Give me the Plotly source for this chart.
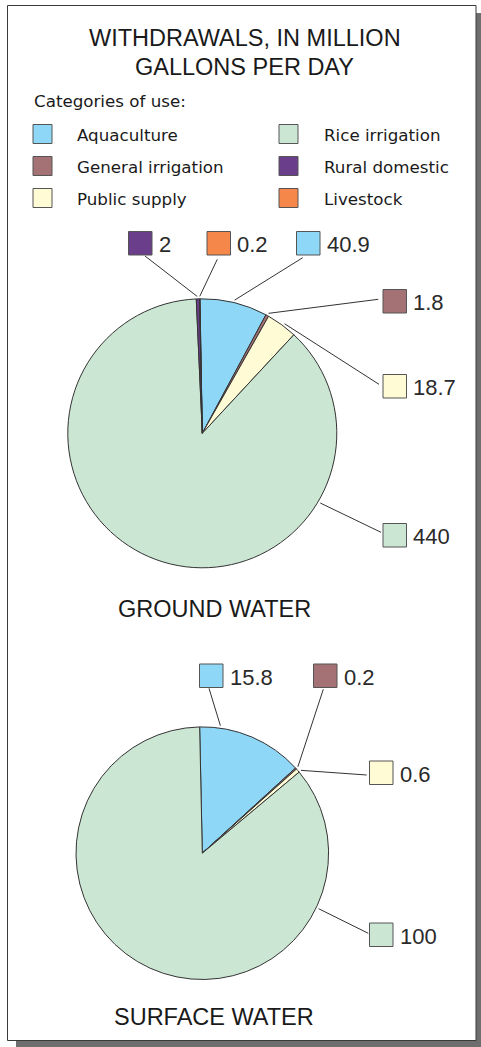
import math
import plotly.graph_objects as go

# ---------------- data ----------------
categories = ["Aquaculture", "General irrigation", "Public supply",
              "Rice irrigation", "Rural domestic", "Livestock"]
colors = ["#8ed7f7", "#a47274", "#fffbd4", "#cce6d4", "#6a3e8a", "#f5874a"]

ground_labels = ["Aquaculture", "General irrigation", "Public supply",
                 "Rice irrigation", "Rural domestic", "Livestock"]
ground_values = [40.9, 1.8, 18.7, 440, 2, 0.2]

surface_labels = ["Aquaculture", "General irrigation", "Public supply", "Rice irrigation"]
surface_values = [15.8, 0.2, 0.6, 100]

title_lines = ["WITHDRAWALS, IN MILLION", "GALLONS PER DAY"]
legend_title = "Categories of use:"
pie_titles = ["GROUND WATER", "SURFACE WATER"]

W, H = 481, 1047


def px(x):
    return x / W


def py(y):
    return 1 - y / H


color_of = dict(zip(categories, colors))

# pie geometry (pixels) -- layout
pies = [
    dict(labels=ground_labels, values=ground_values, cx=202.3, cy=433.3, r=134.5, rot=-1.0,
         callouts={
             "Rural domestic": dict(box=(128.5, 231.5), start=(145, 256), f=0.3),
             "Livestock": dict(box=(207, 231.5), start=(217.3, 259.3), f=0.5),
             "Aquaculture": dict(box=(296.5, 231.5), start=(302.7, 257.7), f=0.5),
             "General irrigation": dict(box=(383, 289.5), start=(378.3, 299.3), f=0.5),
             "Public supply": dict(box=(383, 374.5), start=(379, 384.3), f=0.55),
             "Rice irrigation": dict(box=(383, 523.5), start=(381, 532.3), f=0.247),
         },
         title_y=608.5),
    dict(labels=surface_labels, values=surface_values, cx=202.3, cy=853.2, r=126.3, rot=-1.2,
         callouts={
             "Aquaculture": dict(box=(199.5, 664), start=(209, 688.3), f=0.19),
             "General irrigation": dict(box=(313.5, 664), start=(323.3, 689.3), f=0.5),
             "Public supply": dict(box=(369.5, 761), start=(366.7, 775), f=0.95),
             "Rice irrigation": dict(box=(369.5, 923), start=(368.3, 933.3), f=0.212),
         },
         title_y=1017),
]

fig = go.Figure()
shapes = []
annotations = []

# frame with shadow
shapes.append(dict(type="rect", xref="paper", yref="paper",
                   x0=px(16), x1=px(484), y0=py(13), y1=py(1049),
                   fillcolor="#6e6e6e", line=dict(width=0), layer="below"))
shapes.append(dict(type="rect", xref="paper", yref="paper",
                   x0=px(7.5), x1=px(476), y0=py(5.5), y1=py(1040.5),
                   fillcolor="white", line=dict(color="#3a3a3a", width=1), layer="below"))

for k, p in enumerate(pies):
    cx, cy, r = p["cx"], p["cy"], p["r"]
    fig.add_trace(go.Pie(
        labels=p["labels"], values=p["values"],
        marker=dict(colors=[color_of[l] for l in p["labels"]],
                    line=dict(color="#333333", width=1)),
        sort=False, direction="clockwise", rotation=p["rot"],
        textinfo="none", hoverinfo="label+value", showlegend=False,
        domain=dict(x=[px(cx - r), px(cx + r)], y=[py(cy + r), py(cy - r)]),
    ))
    total = sum(p["values"])
    ang = p["rot"]
    for lab, val in zip(p["labels"], p["values"]):
        span = val / total * 360
        c = p["callouts"][lab]
        a = math.radians(ang + c["f"] * span)
        ang += span
        ex = cx + (r + 2.5) * math.sin(a)
        ey = cy - (r + 2.5) * math.cos(a)
        sx, sy = c["start"]
        shapes.append(dict(type="line", xref="paper", yref="paper",
                           x0=px(sx), y0=py(sy), x1=px(ex), y1=py(ey),
                           line=dict(color="#333333", width=1)))
        bx, by = c["box"]
        shapes.append(dict(type="rect", xref="paper", yref="paper",
                           x0=px(bx), x1=px(bx + 23.5), y0=py(by + 23.5), y1=py(by),
                           fillcolor=color_of[lab], line=dict(color="#555555", width=1)))
        annotations.append(dict(xref="paper", yref="paper", x=px(bx + 28), y=py(by + 13),
                                xanchor="left", yanchor="middle", showarrow=False,
                                text=f"{val:g}",
                                font=dict(family="Liberation Sans", size=22, color="#2a2a2a")))
    annotations.append(dict(xref="paper", yref="paper", x=px(214.3), y=py(p["title_y"]),
                            xanchor="center", yanchor="middle", showarrow=False,
                            text=pie_titles[k],
                            font=dict(family="Liberation Sans", size=23.5, color="#1a1a1a")))

# title
for i, t in enumerate(title_lines):
    annotations.append(dict(xref="paper", yref="paper", x=px(244.5), y=py(38.5 + i * 28.7),
                            xanchor="center", yanchor="middle", showarrow=False, text=t,
                            font=dict(family="Liberation Sans", size=23.5, color="#1a1a1a")))

annotations.append(dict(xref="paper", yref="paper", x=px(32), y=py(100.5),
                        xanchor="left", yanchor="middle", showarrow=False, text=legend_title,
                        font=dict(family="DejaVu Sans", size=16.7, color="#1a1a1a")))

# legend (two columns of three)
col_sq = [33, 279]
col_tx = [75, 322]
row_top = [124.5, 156.5, 188.5]
for i, cat in enumerate(categories):
    c, rw = i // 3, i % 3
    x0, y0 = col_sq[c], row_top[rw]
    shapes.append(dict(type="rect", xref="paper", yref="paper",
                       x0=px(x0), x1=px(x0 + 19), y0=py(y0 + 19), y1=py(y0),
                       fillcolor=colors[i], line=dict(color="#555555", width=1)))
    annotations.append(dict(xref="paper", yref="paper", x=px(col_tx[c]), y=py(y0 + 10.5),
                            xanchor="left", yanchor="middle", showarrow=False, text=cat,
                            font=dict(family="DejaVu Sans", size=16.7, color="#1a1a1a")))

fig.update_layout(width=W, height=H, margin=dict(l=0, r=0, t=0, b=0),
                  paper_bgcolor="white", plot_bgcolor="white",
                  shapes=shapes, annotations=annotations, showlegend=False)

fig.write_html("out.html", config={"displayModeBar": False},
               post_script="document.body.style.margin='0';document.body.style.overflow='hidden';")
